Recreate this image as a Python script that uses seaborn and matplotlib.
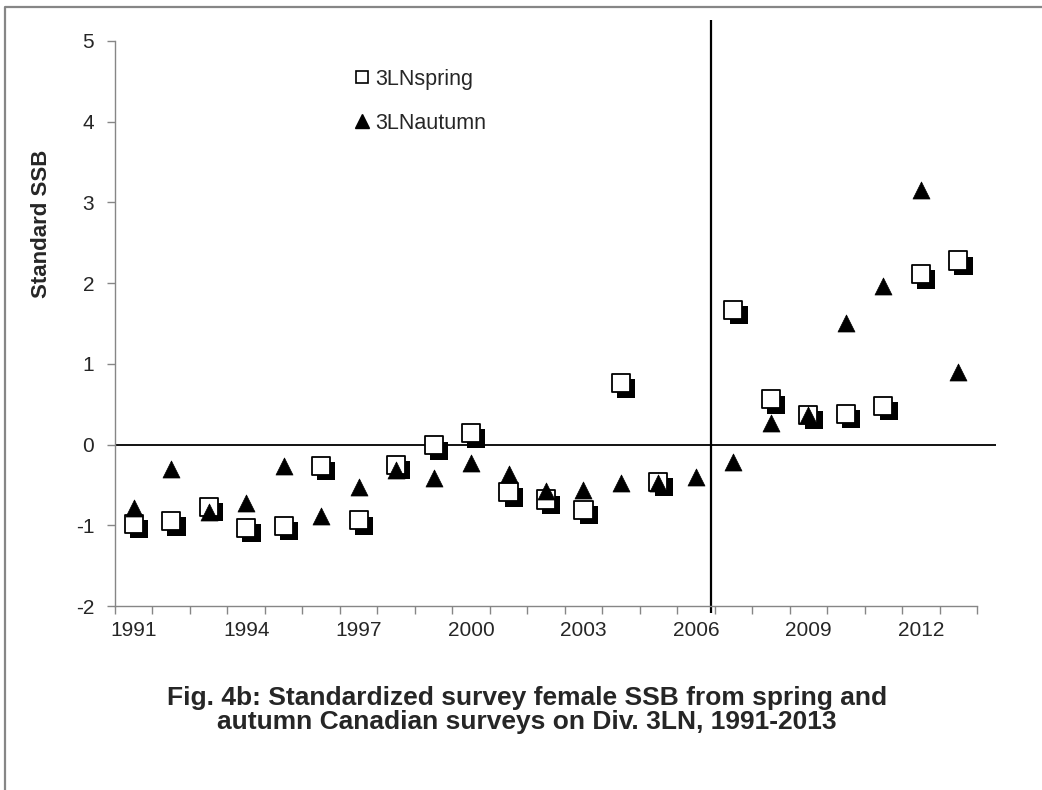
import numpy as np
import pandas as pd
import matplotlib
matplotlib.use("Agg")
import matplotlib.pyplot as plt
import matplotlib.patheffects as pe
from matplotlib.lines import Line2D
import seaborn as sns

# Data (standardized female SSB)
years = list(range(1991, 2014))
spring = [-0.98, -0.95, -0.77, -1.03, -1.01, -0.26, -0.94, -0.25, -0.01, 0.14,
          -0.59, -0.68, -0.81, 0.76, -0.46, np.nan, 1.67, 0.56, 0.37, 0.38,
          0.48, 2.11, 2.28]
autumn = [-0.79, -0.30, -0.83, -0.73, -0.26, -0.89, -0.52, -0.31, -0.42, -0.23,
          -0.36, -0.57, -0.56, -0.48, -0.47, -0.40, -0.22, 0.27, 0.37, 1.51,
          1.97, 3.16, 0.90]
year_labels = [1991, 1994, 1997, 2000, 2003, 2006, 2009, 2012]
y_ticks = [-2, -1, 0, 1, 2, 3, 4, 5]
split_year = 2006.4

df = pd.DataFrame({"year": years, "3LNspring": spring, "3LNautumn": autumn})

sns.set_style("white")
plt.rcParams['font.family'] = ['Liberation Sans', 'DejaVu Sans']
plt.rcParams['axes.unicode_minus'] = False

fig = plt.figure(figsize=(10.42, 7.9), dpi=100)
ax = fig.add_axes([115/1042, 1-606/790, (977-115)/1042, (606-41)/790])

grey = "#868686"

# spring squares with a black drop shadow
sns.scatterplot(data=df, x="year", y="3LNspring", marker="s", s=170,
                color="white", edgecolor="black", linewidth=1.3, ax=ax,
                zorder=3,
                path_effects=[pe.SimplePatchShadow(offset=(3.8, -3.8),
                                                   shadow_rgbFace="black",
                                                   alpha=1.0),
                              pe.Normal()])
# autumn triangles
sns.scatterplot(data=df, x="year", y="3LNautumn", marker="^", s=150,
                color="black", edgecolor="black", linewidth=0.5, ax=ax,
                zorder=4)

ax.set_xlim(1990.5, 2013.5)
ax.set_ylim(-2, 5)

# reference lines
ax.hlines(0, 1990.5, 2014, color="black", linewidth=1.3, clip_on=False, zorder=2)
ax.vlines(split_year, -2.09, 5.26, color="black", linewidth=1.6, clip_on=False, zorder=2)

# axes styling
for side in ["top", "right"]:
    ax.spines[side].set_visible(False)
for side in ["left", "bottom"]:
    ax.spines[side].set_color(grey)
    ax.spines[side].set_linewidth(1.0)

ax.set_xticks(year_labels)
ax.set_xticklabels([str(y) for y in year_labels])
ax.set_xticks(np.arange(1990.5, 2014, 1.0), minor=True)
ax.tick_params(axis="x", which="major", length=0, pad=11, labelsize=15)
ax.tick_params(axis="x", which="minor", length=6, width=1.0, color=grey,
               direction="out", bottom=True)
ax.set_yticks(y_ticks)
ax.tick_params(axis="y", length=6, width=1.0, color=grey, direction="out",
               left=True, pad=9, labelsize=15)
ax.set_xlabel("")
ax.set_ylabel("")

fig.text(42/1042, 1-224/790, "Standard SSB", rotation=90, fontsize=16,
         fontweight="bold", ha="center", va="center")

handles = [Line2D([], [], marker="s", ms=9, mfc="white", mec="black",
                  mew=1.2, ls=""),
           Line2D([], [], marker="^", ms=9.5, mfc="black", mec="black",
                  ls="")]
fig.legend(handles, ["3LNspring", "3LNautumn"], loc="upper left",
           bbox_to_anchor=(357/1042, 1-69/790), frameon=False, fontsize=15.5,
           handlelength=0.5, handletextpad=0.35, labelspacing=1.05,
           borderpad=0, borderaxespad=0)

fig.text(527/1042, 1-710/790,
         "Fig. 4b: Standardized survey female SSB from spring and\n"
         "autumn Canadian surveys on Div. 3LN, 1991-2013",
         fontsize=19, fontweight="bold", ha="center", va="center",
         multialignment="center", linespacing=1.0)

# chart frame (top and left edges visible)
fig.add_artist(Line2D([4.5/1042, 4.5/1042, 1.0], [0.0, 1-6.5/790, 1-6.5/790],
                      color=grey, linewidth=1.6))

fig.savefig("out.png", dpi=100)
